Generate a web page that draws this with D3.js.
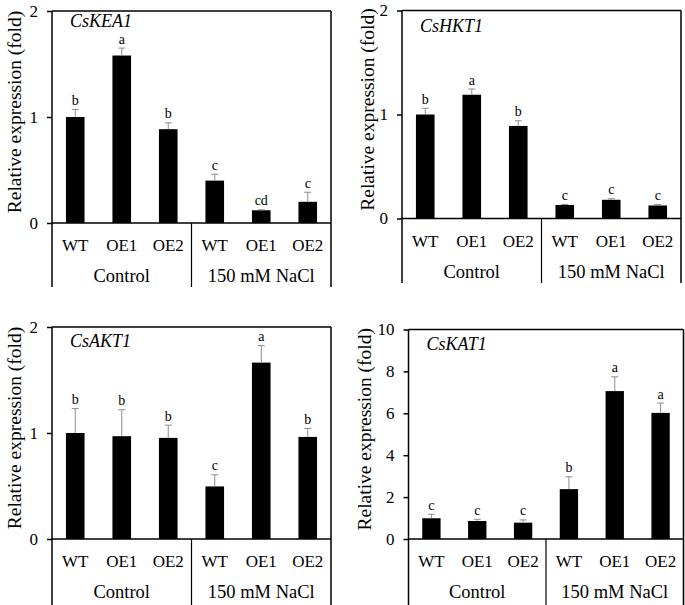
<!DOCTYPE html>
<html>
<head>
<meta charset="utf-8">
<script src="https://cdn.jsdelivr.net/npm/d3@7"></script>
<style>
  html, body { margin: 0; padding: 0; background: #fff; }
  svg { display: block; }
  text { font-family: 'Liberation Serif', serif; fill: #000; }
</style>
</head>
<body>
<svg id="chart" width="685" height="605"></svg>
<script>
// ---------------- data ----------------
const categories = ["WT", "OE1", "OE2", "WT", "OE1", "OE2"];
const groups = ["Control", "150 mM NaCl"];
const genes = ["CsKEA1", "CsHKT1", "CsAKT1", "CsKAT1"];

const kea1Values  = [1.00, 1.58, 0.885, 0.40, 0.12, 0.20];
const kea1Errors  = [0.07, 0.07, 0.06, 0.06, 0.005, 0.09];
const kea1Letters = ["b", "a", "b", "c", "cd", "c"];

const hkt1Values  = [1.00, 1.19, 0.89, 0.13, 0.18, 0.125];
const hkt1Errors  = [0.06, 0.055, 0.05, 0.005, 0.01, 0.01];
const hkt1Letters = ["b", "a", "b", "c", "c", "c"];

const akt1Values  = [1.00, 0.97, 0.954, 0.496, 1.664, 0.963];
const akt1Errors  = [0.23, 0.25, 0.12, 0.11, 0.16, 0.08];
const akt1Letters = ["b", "b", "b", "c", "a", "b"];

const kat1Values  = [0.99, 0.86, 0.78, 2.38, 7.06, 6.02];
const kat1Errors  = [0.19, 0.08, 0.13, 0.59, 0.68, 0.47];
const kat1Letters = ["c", "c", "c", "b", "a", "a"];

const smallTicks = [0, 1, 2];
const largeTicks = [0, 2, 4, 6, 8, 10];
const yTitle = "Relative expression (fold)";

// ---------------- layout ----------------
const FONT = "Liberation Serif";
const panels = [
  { gene: genes[0], values: kea1Values, errors: kea1Errors, letters: kea1Letters, ticks: smallTicks,
    left: 52, right: 331, top: 11, zero: 223, titleDy: 15.5, labelX: 21, bottom: 287 },
  { gene: genes[1], values: hkt1Values, errors: hkt1Errors, letters: hkt1Letters, ticks: smallTicks,
    left: 402, right: 681, top: 10.5, zero: 218.5, titleDy: 21, labelX: 374, bottom: 283 },
  { gene: genes[2], values: akt1Values, errors: akt1Errors, letters: akt1Letters, ticks: smallTicks,
    left: 52, right: 331, top: 327, zero: 539, titleDy: 20, labelX: 21, bottom: 605 },
  { gene: genes[3], values: kat1Values, errors: kat1Errors, letters: kat1Letters, ticks: largeTicks,
    left: 408.5, right: 683.5, top: 329.5, zero: 539, titleDy: 20.5, labelX: 371, bottom: 605 }
];

const svg = d3.select("#chart").attr("font-family", FONT);
const idx = d3.range(categories.length);

panels.forEach(p => {
  const g = svg.append("g").attr("font-family", FONT);
  const x = d3.scaleBand().domain(idx).range([p.left, p.right]).paddingInner(0.6).paddingOuter(0.3);
  const y = d3.scaleLinear().domain([0, d3.max(p.ticks)]).range([p.zero, p.top]);

  // bars
  g.selectAll("rect.bar").data(idx).join("rect")
    .attr("x", i => x(i))
    .attr("width", x.bandwidth())
    .attr("y", i => y(p.values[i]))
    .attr("height", i => y(0) - y(p.values[i]))
    .attr("fill", "#000");

  // error bars (upper only)
  const cap = 3.5;
  g.selectAll("line.err").data(idx).join("line")
    .attr("x1", i => x(i) + x.bandwidth() / 2)
    .attr("x2", i => x(i) + x.bandwidth() / 2)
    .attr("y1", i => y(p.values[i]))
    .attr("y2", i => y(p.values[i] + p.errors[i]))
    .attr("stroke", "#8c8c8c").attr("stroke-width", 1);
  g.selectAll("line.cap").data(idx).join("line")
    .attr("x1", i => x(i) + x.bandwidth() / 2 - cap)
    .attr("x2", i => x(i) + x.bandwidth() / 2 + cap)
    .attr("y1", i => y(p.values[i] + p.errors[i]))
    .attr("y2", i => y(p.values[i] + p.errors[i]))
    .attr("stroke", "#8c8c8c").attr("stroke-width", 1);

  // significance letters
  g.selectAll("text.letter").data(idx).join("text")
    .attr("x", i => x(i) + x.bandwidth() / 2)
    .attr("y", i => y(p.values[i] + p.errors[i]) - 4.5)
    .attr("text-anchor", "middle")
    .attr("font-family", FONT).attr("fill", "#000")
    .attr("font-size", 14)
    .text(i => p.letters[i]);

  // y axis
  const yAxis = d3.axisLeft(y).tickValues(p.ticks).tickSize(5).tickPadding(9).tickFormat(d3.format("d"));
  const ax = g.append("g").attr("transform", `translate(${p.left},0)`).call(yAxis)
    .attr("font-family", FONT);
  ax.select(".domain").remove();
  ax.selectAll(".tick line").attr("stroke", "#000").attr("stroke-width", 1.5);
  ax.selectAll(".tick text").attr("font-size", 17).attr("fill", "#000").attr("font-family", FONT);

  // frame
  const fr = g.append("g").attr("stroke", "#000").attr("stroke-width", 1.5).attr("fill", "none");
  fr.append("line").attr("x1", p.left).attr("x2", p.right).attr("y1", p.top).attr("y2", p.top);
  fr.append("line").attr("x1", p.left).attr("x2", p.right).attr("y1", y(0)).attr("y2", y(0));
  fr.append("line").attr("x1", p.left).attr("x2", p.left).attr("y1", p.top).attr("y2", p.bottom);
  fr.append("line").attr("x1", p.right).attr("x2", p.right).attr("y1", p.top).attr("y2", p.bottom);
  const mid = (p.left + p.right) / 2;
  fr.append("line").attr("x1", mid).attr("x2", mid).attr("y1", y(0)).attr("y2", p.bottom)
    .attr("stroke-width", 1.2);

  // category labels
  g.selectAll("text.cat").data(idx).join("text")
    .attr("x", i => x(i) + x.bandwidth() / 2)
    .attr("y", y(0) + 28)
    .attr("text-anchor", "middle")
    .attr("font-family", FONT).attr("fill", "#000")
    .attr("font-size", 17)
    .text(i => categories[i]);

  // group labels
  g.selectAll("text.grp").data(groups).join("text")
    .attr("x", (d, j) => p.left + (p.right - p.left) * (j * 2 + 1) / 4)
    .attr("y", y(0) + 59)
    .attr("text-anchor", "middle")
    .attr("font-family", FONT).attr("fill", "#000")
    .attr("font-size", 18.5)
    .text(d => d);

  // gene title
  g.append("text")
    .attr("x", p.left + 18)
    .attr("y", p.top + p.titleDy)
    .attr("font-family", FONT).attr("fill", "#000")
    .attr("font-size", 18)
    .attr("font-style", "italic")
    .text(p.gene);

  // y title
  g.append("text")
    .attr("transform", `translate(${p.labelX},${(p.top + p.zero) / 2 - 5}) rotate(-90)`)
    .attr("text-anchor", "middle")
    .attr("font-family", FONT).attr("fill", "#000")
    .attr("font-size", 19.5)
    .text(yTitle);
});
</script>
</body>
</html>
